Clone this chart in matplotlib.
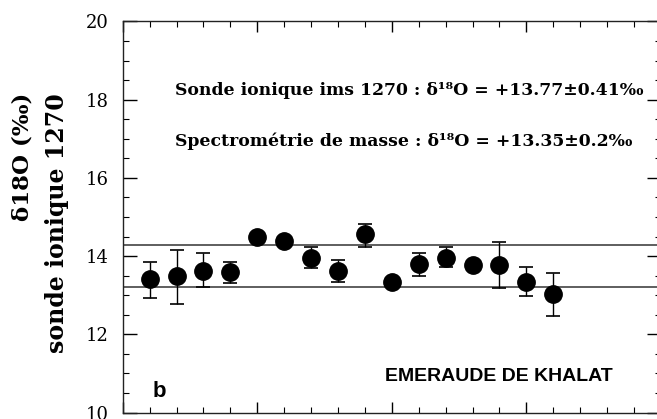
import numpy as np
import matplotlib
matplotlib.use("Agg")
import matplotlib.pyplot as plt

# analysis number and d18O values
analyse = [1, 2, 3, 4, 5, 6, 7, 8, 9, 10, 11, 12, 13, 14, 15, 16]
d18o = [13.41, 13.48, 13.63, 13.59, 14.48, 14.39, 13.96, 13.61,
        14.56, 13.34, 13.80, 13.96, 13.78, 13.78, 13.35, 13.03]
err_haut = [0.44, 0.68, 0.45, 0.26, 0.08, 0.06, 0.26, 0.30,
            0.27, 0.05, 0.28, 0.28, 0.08, 0.59, 0.38, 0.53]
err_bas = [0.48, 0.71, 0.43, 0.27, 0.08, 0.06, 0.27, 0.28,
           0.32, 0.05, 0.30, 0.24, 0.08, 0.60, 0.38, 0.55]
limites = [14.29, 13.22]   # horizontal band lines

texte1 = "Sonde ionique ims 1270 : δ¹⁸O = +13.77±0.41‰"
texte2 = "Spectrométrie de masse : δ¹⁸O = +13.35±0.2‰"

fig = plt.figure(figsize=(6.57, 4.19), dpi=100)
ax = fig.add_axes([0.1868, 0.0155, 0.8192, 0.9332])

ax.errorbar(analyse, d18o, yerr=[err_bas, err_haut], fmt='o', color='black',
            markersize=12.5, capsize=5, elinewidth=1, capthick=1.2, zorder=3)
for y in limites:
    ax.axhline(y, color='#333333', lw=1.1, zorder=2)

ax.set_xlim(0, 20)
ax.set_ylim(10, 20)
ax.set_xticks(np.arange(0, 21, 5))
ax.set_xticks(np.arange(0, 21, 1), minor=True)
ax.set_yticks(np.arange(10, 21, 2))
ax.set_yticks(np.arange(10, 20.1, 0.5), minor=True)
ax.tick_params(which='both', direction='in', top=True, right=True)
ax.tick_params(which='major', length=8, width=1)
ax.tick_params(which='minor', length=4, width=0.8)
ax.tick_params(axis='x', labelbottom=False)
ax.tick_params(axis='y', which='major', length=10, pad=10,
               labelsize=13, labelfontfamily='DejaVu Serif')
for s in ax.spines.values():
    s.set_linewidth(1)
    s.set_color('#222222')

ax.text(1.93, 18.23, texte1, family='DejaVu Serif', weight='bold', fontsize=12.4,
        va='center', ha='left')
ax.text(1.93, 16.93, texte2, family='DejaVu Serif', weight='bold', fontsize=12.4,
        va='center', ha='left')
ax.text(18.2, 10.92, "EMERAUDE DE KHALAT", family='Liberation Sans', weight='bold',
        fontsize=14, va='center', ha='right')
ax.text(1.1, 10.53, "b", family='Liberation Sans', weight='bold', fontsize=16,
        va='center', ha='left')

fig.text(0.035, 0.778, "δ18O (‰)", rotation=90, family='DejaVu Serif',
         weight='bold', fontsize=16.5, ha='center', va='top')
fig.text(0.087, 0.778, "sonde ionique 1270", rotation=90, family='DejaVu Serif',
         weight='bold', fontsize=17, ha='center', va='top')

fig.savefig("out.png", dpi=100)
